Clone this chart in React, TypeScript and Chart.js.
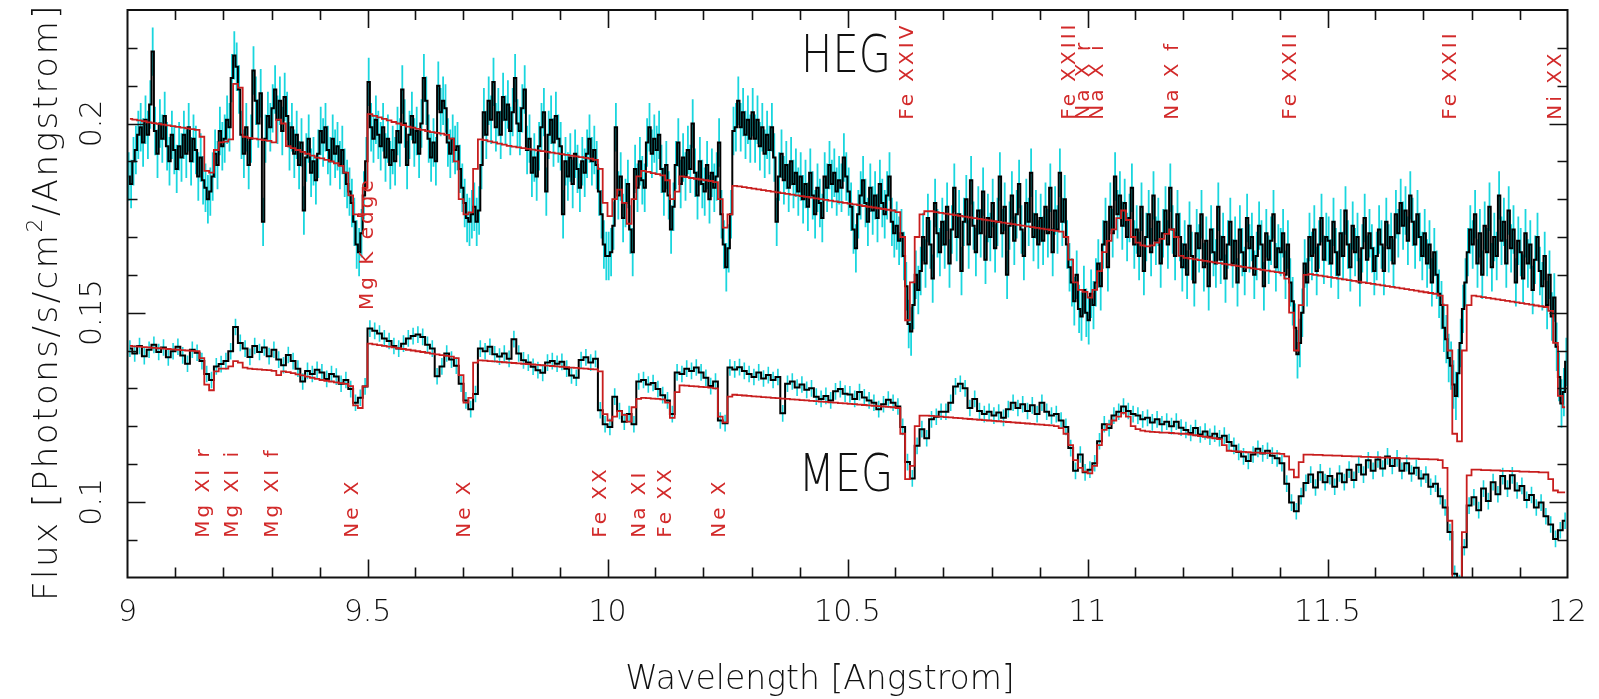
import React, { useEffect, useRef } from "react";
import { Chart, registerables } from "chart.js";

Chart.register(...registerables);

// ---- grid of the two spectra ----
const WAVE_START = 9.0;
const HEG_BIN = 0.005;
const MEG_BIN = 0.01;
const MODEL_BIN = 0.01;

// typical 1-sigma flux errors of a bin
const hegSigma = 0.0064;
const megSigma = 0.0022;

// HEG measured flux (photons/s/cm^2/A), 0.005 A bins from 9.0 A
const hegFlux = [
  0.186,0.184,0.190,0.193,0.197,0.199,0.195,0.201,0.197,0.205,0.219,0.198,0.192,0.200,0.196,0.202,0.194,0.190,0.197,0.193,
  0.188,0.194,0.191,0.197,0.192,0.199,0.190,0.196,0.193,0.186,0.191,0.185,0.183,0.180,0.182,0.186,0.192,0.189,0.198,0.194,
  0.196,0.201,0.199,0.212,0.218,0.215,0.209,0.197,0.192,0.199,0.189,0.196,0.214,0.206,0.200,0.208,0.174,0.196,0.202,0.199,
  0.204,0.209,0.201,0.206,0.198,0.207,0.202,0.194,0.199,0.192,0.197,0.189,0.195,0.177,0.191,0.196,0.187,0.190,0.185,0.192,
  0.198,0.195,0.199,0.193,0.190,0.196,0.192,0.194,0.189,0.193,0.187,0.184,0.182,0.179,0.174,0.168,0.166,0.171,0.181,0.190,
  0.211,0.199,0.196,0.201,0.197,0.194,0.199,0.191,0.196,0.189,0.193,0.190,0.198,0.195,0.209,0.200,0.189,0.197,0.202,0.195,
  0.198,0.192,0.200,0.212,0.206,0.196,0.191,0.195,0.190,0.210,0.203,0.206,0.204,0.195,0.192,0.196,0.193,0.194,0.188,0.183,
  0.179,0.175,0.174,0.176,0.178,0.174,0.177,0.189,0.203,0.197,0.206,0.201,0.211,0.199,0.203,0.197,0.207,0.201,0.205,0.198,
  0.203,0.212,0.200,0.198,0.204,0.209,0.193,0.196,0.187,0.191,0.186,0.194,0.199,0.203,0.182,0.197,0.201,0.195,0.202,0.196,
  0.194,0.176,0.190,0.186,0.191,0.184,0.192,0.188,0.183,0.190,0.187,0.192,0.196,0.190,0.193,0.189,0.182,0.176,0.168,0.165,
  0.165,0.166,0.173,0.199,0.181,0.186,0.175,0.179,0.184,0.172,0.166,0.188,0.183,0.190,0.185,0.183,0.195,0.199,0.192,0.196,
  0.193,0.197,0.188,0.182,0.189,0.181,0.172,0.178,0.189,0.195,0.184,0.191,0.186,0.193,0.188,0.200,0.187,0.181,0.190,0.184,
  0.182,0.189,0.180,0.187,0.183,0.186,0.195,0.176,0.168,0.162,0.167,0.176,0.198,0.199,0.206,0.199,0.203,0.197,0.201,0.196,
  0.203,0.196,0.201,0.194,0.199,0.192,0.197,0.193,0.199,0.191,0.174,0.186,0.192,0.185,0.189,0.183,0.190,0.184,0.187,0.182,
  0.186,0.180,0.184,0.178,0.187,0.181,0.176,0.183,0.179,0.175,0.186,0.183,0.189,0.184,0.187,0.182,0.185,0.183,0.191,0.186,
  0.182,0.178,0.172,0.167,0.176,0.181,0.185,0.179,0.174,0.183,0.177,0.181,0.175,0.184,0.179,0.176,0.181,0.186,0.174,0.171,
  0.173,0.169,0.171,0.165,0.157,0.147,0.145,0.152,0.160,0.156,0.161,0.170,0.163,0.175,0.168,0.159,0.179,0.171,0.166,0.174,
  0.168,0.178,0.163,0.172,0.183,0.170,0.176,0.161,0.174,0.180,0.168,0.185,0.173,0.166,0.177,0.171,0.182,0.164,0.175,0.170,
  0.179,0.167,0.174,0.186,0.171,0.178,0.160,0.173,0.181,0.169,0.176,0.184,0.172,0.165,0.179,0.174,0.187,0.170,0.176,0.168,
  0.175,0.169,0.178,0.171,0.183,0.166,0.177,0.172,0.187,0.174,0.180,0.168,0.162,0.158,0.153,0.160,0.151,0.149,0.156,0.150,
  0.148,0.155,0.152,0.158,0.163,0.157,0.168,0.174,0.162,0.178,0.171,0.186,0.176,0.181,0.173,0.179,0.170,0.175,0.183,0.168,
  0.172,0.165,0.178,0.161,0.170,0.176,0.166,0.181,0.169,0.174,0.163,0.171,0.177,0.168,0.183,0.172,0.165,0.176,0.170,0.162,
  0.168,0.160,0.173,0.165,0.158,0.171,0.167,0.176,0.162,0.169,0.157,0.172,0.166,0.163,0.178,0.164,0.170,0.159,0.168,0.174,
  0.163,0.169,0.158,0.172,0.166,0.161,0.175,0.167,0.170,0.160,0.165,0.173,0.168,0.157,0.171,0.164,0.169,0.176,0.162,0.167,
  0.166,0.171,0.160,0.168,0.158,0.153,0.146,0.139,0.142,0.150,0.163,0.158,0.170,0.165,0.172,0.161,0.168,0.175,0.164,0.170,
  0.169,0.163,0.174,0.166,0.160,0.171,0.165,0.177,0.168,0.162,0.173,0.166,0.170,0.158,0.167,0.175,0.164,0.171,0.167,0.161,
  0.165,0.172,0.168,0.161,0.174,0.167,0.170,0.163,0.176,0.171,0.179,0.173,0.177,0.169,0.181,0.174,0.168,0.176,0.170,0.165,
  0.171,0.163,0.168,0.158,0.166,0.160,0.155,0.152,0.146,0.143,0.138,0.136,0.131,0.128,0.134,0.142,0.151,0.158,0.166,0.172,
  0.168,0.176,0.163,0.171,0.160,0.173,0.166,0.178,0.162,0.170,0.165,0.181,0.169,0.174,0.163,0.177,0.167,0.172,0.158,0.169,
  0.166,0.159,0.171,0.163,0.168,0.156,0.164,0.170,0.161,0.157,0.165,0.152,0.160,0.149,0.154,0.141,0.133,0.126,0.129,0.137,
];

// HEG fitted model, 0.01 A bins
const hegModel = [
  0.2012,0.2010,0.2008,0.2006,0.2003,0.2001,0.1999,0.1997,0.1995,0.1993,
  0.1991,0.1989,0.1987,0.1985,0.1983,0.1965,0.1875,0.1870,0.1930,0.1950,
  0.1952,0.1958,0.2105,0.2095,0.1965,0.1962,0.1960,0.1958,0.1956,0.1954,
  0.1950,0.2010,0.2000,0.1940,0.1935,0.1930,0.1925,0.1920,0.1915,0.1910,
  0.1908,0.1904,0.1900,0.1895,0.1888,0.1870,0.1810,0.1760,0.1755,0.1830,
  0.2025,0.2020,0.2016,0.2012,0.2008,0.2004,0.2000,0.1996,0.1992,0.1989,
  0.1986,0.1983,0.1980,0.1977,0.1975,0.1973,0.1970,0.1960,0.1900,0.1800,
  0.1760,0.1765,0.1880,0.1958,0.1956,0.1953,0.1950,0.1947,0.1944,0.1941,
  0.1939,0.1937,0.1935,0.1933,0.1931,0.1929,0.1927,0.1925,0.1923,0.1921,
  0.1919,0.1917,0.1915,0.1913,0.1911,0.1909,0.1907,0.1904,0.1880,0.1790,
  0.1755,0.1800,0.1825,0.1790,0.1735,0.1800,0.1860,0.1875,0.1872,0.1869,
  0.1866,0.1863,0.1850,0.1800,0.1820,0.1860,0.1858,0.1856,0.1854,0.1852,
  0.1850,0.1848,0.1845,0.1800,0.1725,0.1760,0.1835,0.1834,0.1832,0.1830,
  0.1828,0.1826,0.1824,0.1822,0.1820,0.1818,0.1816,0.1814,0.1812,0.1810,
  0.1808,0.1806,0.1804,0.1802,0.1800,0.1798,0.1796,0.1794,0.1792,0.1790,
  0.1788,0.1786,0.1784,0.1782,0.1780,0.1778,0.1776,0.1774,0.1772,0.1770,
  0.1766,0.1700,0.1480,0.1580,0.1700,0.1760,0.1768,0.1768,0.1766,0.1764,
  0.1762,0.1760,0.1758,0.1756,0.1754,0.1752,0.1750,0.1748,0.1746,0.1744,
  0.1742,0.1740,0.1738,0.1736,0.1734,0.1732,0.1730,0.1728,0.1726,0.1724,
  0.1722,0.1720,0.1718,0.1716,0.1714,0.1700,0.1640,0.1580,0.1560,0.1555,
  0.1540,0.1560,0.1610,0.1660,0.1690,0.1720,0.1750,0.1770,0.1745,0.1700,
  0.1685,0.1678,0.1675,0.1678,0.1685,0.1695,0.1708,0.1720,0.1700,0.1650,
  0.1645,0.1643,0.1641,0.1639,0.1637,0.1635,0.1633,0.1631,0.1629,0.1627,
  0.1625,0.1623,0.1621,0.1619,0.1617,0.1615,0.1613,0.1611,0.1609,0.1607,
  0.1605,0.1590,0.1500,0.1400,0.1520,0.1600,0.1602,0.1600,0.1598,0.1596,
  0.1594,0.1592,0.1590,0.1588,0.1586,0.1584,0.1582,0.1580,0.1578,0.1576,
  0.1574,0.1572,0.1570,0.1568,0.1566,0.1564,0.1562,0.1560,0.1558,0.1556,
  0.1554,0.1552,0.1550,0.1545,0.1520,0.1400,0.1180,0.1160,0.1400,0.1520,
  0.1545,0.1543,0.1541,0.1539,0.1537,0.1535,0.1533,0.1531,0.1529,0.1527,
  0.1525,0.1523,0.1521,0.1519,0.1517,0.1515,0.1505,0.1420,0.1280,0.1250,
];

// MEG measured flux, 0.01 A bins from 9.0 A
const megFlux = [
  0.1405,0.1392,0.1412,0.1385,0.1402,0.1415,0.1396,0.1408,0.1382,0.1398,
  0.1410,0.1387,0.1365,0.1402,0.1394,0.1372,0.1338,0.1322,0.1358,0.1364,
  0.1372,0.1398,0.1462,0.1420,0.1405,0.1383,0.1412,0.1396,0.1408,0.1385,
  0.1402,0.1376,0.1361,0.1388,0.1372,0.1352,0.1318,0.1346,0.1338,0.1349,
  0.1342,0.1325,0.1338,0.1331,0.1312,0.1322,0.1298,0.1262,0.1275,0.1305,
  0.1458,0.1452,0.1445,0.1432,0.1425,0.1412,0.1405,0.1418,0.1432,0.1438,
  0.1442,0.1436,0.1415,0.1405,0.1332,0.1358,0.1392,0.1376,0.1360,0.1312,
  0.1268,0.1245,0.1285,0.1405,0.1398,0.1410,0.1390,0.1384,0.1392,0.1378,
  0.1430,0.1392,0.1374,0.1368,0.1357,0.1348,0.1341,0.1368,0.1372,0.1365,
  0.1370,0.1352,0.1334,0.1328,0.1375,0.1382,0.1368,0.1378,0.1242,0.1205,
  0.1198,0.1278,0.1240,0.1212,0.1232,0.1205,0.1318,0.1322,0.1310,0.1314,
  0.1298,0.1282,0.1268,0.1232,0.1342,0.1338,0.1352,0.1346,0.1355,0.1342,
  0.1328,0.1306,0.1318,0.1215,0.1208,0.1355,0.1350,0.1356,0.1346,0.1338,
  0.1330,0.1342,0.1326,0.1335,0.1322,0.1330,0.1234,0.1312,0.1318,0.1302,
  0.1310,0.1296,0.1300,0.1278,0.1272,0.1280,0.1268,0.1292,0.1298,0.1286,
  0.1284,0.1272,0.1290,0.1276,0.1268,0.1262,0.1245,0.1258,0.1270,0.1262,
  0.1252,0.1198,0.1105,0.1062,0.1148,0.1192,0.1168,0.1218,0.1225,0.1238,
  0.1238,0.1262,0.1305,0.1312,0.1300,0.1248,0.1272,0.1240,0.1232,0.1238,
  0.1228,0.1236,0.1222,0.1245,0.1262,0.1248,0.1258,0.1240,0.1255,0.1232,
  0.1262,0.1238,0.1228,0.1232,0.1215,0.1198,0.1142,0.1082,0.1125,0.1078,
  0.1085,0.1102,0.1160,0.1205,0.1195,0.1228,0.1238,0.1252,0.1240,0.1232,
  0.1228,0.1218,0.1222,0.1210,0.1218,0.1205,0.1212,0.1200,0.1212,0.1196,
  0.1190,0.1182,0.1195,0.1178,0.1186,0.1172,0.1180,0.1168,0.1175,0.1158,
  0.1148,0.1132,0.1120,0.1108,0.1125,0.1140,0.1128,0.1135,0.1122,0.1115,
  0.1102,0.1048,0.0998,0.0975,0.1015,0.1050,0.1072,0.1038,0.1078,0.1052,
  0.1068,0.1040,0.1075,0.1052,0.1085,0.1058,0.1098,0.1072,0.1110,0.1082,
  0.1112,0.1088,0.1120,0.1095,0.1115,0.1082,0.1102,0.1075,0.1090,0.1062,
  0.1072,0.1040,0.1048,0.1015,0.0985,0.0920,0.0810,0.0785,0.0880,0.0990,
  0.1012,0.0978,0.1035,0.1002,0.1052,0.1020,0.1068,0.1035,0.1070,0.1030,
  0.1042,0.1005,0.1018,0.0985,0.0998,0.0962,0.0940,0.0902,0.0925,0.0950,
];

// MEG fitted model, 0.01 A bins
const megModel = [
  0.1412,0.1411,0.1410,0.1409,0.1408,0.1407,0.1406,0.1405,0.1404,0.1403,
  0.1402,0.1401,0.1400,0.1399,0.1398,0.1380,0.1310,0.1295,0.1345,0.1352,
  0.1352,0.1358,0.1372,0.1368,0.1355,0.1352,0.1351,0.1350,0.1349,0.1348,
  0.1346,0.1335,0.1345,0.1343,0.1340,0.1337,0.1334,0.1331,0.1328,0.1325,
  0.1322,0.1320,0.1318,0.1316,0.1314,0.1312,0.1306,0.1255,0.1248,0.1305,
  0.1418,0.1416,0.1414,0.1412,0.1410,0.1408,0.1406,0.1404,0.1402,0.1400,
  0.1398,0.1396,0.1394,0.1392,0.1390,0.1388,0.1386,0.1384,0.1380,0.1335,
  0.1262,0.1275,0.1368,0.1374,0.1373,0.1372,0.1371,0.1370,0.1369,0.1368,
  0.1367,0.1366,0.1365,0.1364,0.1363,0.1362,0.1361,0.1360,0.1359,0.1358,
  0.1357,0.1356,0.1355,0.1354,0.1353,0.1352,0.1351,0.1350,0.1345,0.1232,
  0.1215,0.1225,0.1240,0.1230,0.1212,0.1250,0.1272,0.1275,0.1274,0.1273,
  0.1272,0.1271,0.1262,0.1222,0.1290,0.1308,0.1307,0.1306,0.1305,0.1304,
  0.1303,0.1302,0.1300,0.1225,0.1210,0.1278,0.1283,0.1282,0.1281,0.1280,
  0.1279,0.1278,0.1277,0.1276,0.1275,0.1274,0.1273,0.1272,0.1271,0.1270,
  0.1269,0.1268,0.1267,0.1266,0.1265,0.1264,0.1263,0.1262,0.1261,0.1260,
  0.1259,0.1258,0.1257,0.1256,0.1255,0.1254,0.1253,0.1252,0.1251,0.1250,
  0.1248,0.1180,0.1060,0.1095,0.1200,0.1228,0.1228,0.1227,0.1226,0.1225,
  0.1224,0.1223,0.1222,0.1221,0.1220,0.1219,0.1218,0.1217,0.1216,0.1215,
  0.1214,0.1213,0.1212,0.1211,0.1210,0.1209,0.1208,0.1207,0.1206,0.1205,
  0.1204,0.1203,0.1202,0.1200,0.1195,0.1180,0.1150,0.1110,0.1090,0.1080,
  0.1075,0.1095,0.1150,0.1190,0.1205,0.1215,0.1225,0.1235,0.1225,0.1200,
  0.1192,0.1188,0.1186,0.1185,0.1184,0.1183,0.1183,0.1182,0.1181,0.1180,
  0.1180,0.1178,0.1176,0.1174,0.1172,0.1170,0.1168,0.1166,0.1150,0.1135,
  0.1134,0.1133,0.1132,0.1131,0.1130,0.1130,0.1129,0.1129,0.1128,0.1128,
  0.1127,0.1120,0.1085,0.1065,0.1105,0.1125,0.1125,0.1124,0.1124,0.1123,
  0.1123,0.1122,0.1122,0.1121,0.1121,0.1120,0.1120,0.1119,0.1119,0.1118,
  0.1118,0.1117,0.1117,0.1116,0.1116,0.1115,0.1115,0.1114,0.1114,0.1113,
  0.1113,0.1112,0.1112,0.1110,0.1090,0.0950,0.0780,0.0770,0.0920,0.1070,
  0.1085,0.1085,0.1084,0.1084,0.1083,0.1083,0.1082,0.1082,0.1081,0.1081,
  0.1080,0.1080,0.1079,0.1079,0.1078,0.1078,0.1060,0.1030,0.1025,0.1025,
];

// line identifications: label, wavelength of the label baseline, flux where the text starts
const upperLineLabels = ["Fe XXIV", "Fe XXIII", "Na X r", "Na X i", "Na X f", "Fe XXII", "Fe XXII", "Ni XX"];
const upperLineWaves = [10.636, 10.974, 11.004, 11.032, 11.188, 11.434, 11.768, 11.987];
const upperLabelFlux = 0.201;

const lowerLineLabels = ["Mg XI r", "Mg XI i", "Mg XI f", "Ne X", "Ne X", "Fe XX", "Na XI", "Fe XX", "Ne X"];
const lowerLineWaves = [9.169, 9.231, 9.314, 9.481, 9.714, 9.997, 10.079, 10.132, 10.245];
const lowerLabelFlux = 0.0905;

const edgeLabel = "Mg K edge";
const edgeWave = 9.512;
const edgeLabelFlux = 0.1507;

// axes
const X_MIN = 9;
const X_MAX = 12;
const Y_MIN = 0.08;
const Y_MAX = 0.23;
const xTickValues = [9, 9.5, 10, 10.5, 11, 11.5, 12];
const xTickLabels = ["9", "9.5", "10", "10.5", "11", "11.5", "12"];
const yTickValues = [0.1, 0.15, 0.2];
const yTickLabels = ["0.1", "0.15", "0.2"];
const X_MINOR_STEP = 0.1;
const Y_MINOR_STEP = 0.01;

const RED = "#c81e1e";
const LABEL_RED = "#d22a2a";
const CYAN = "#19d6de";
const FONT = "'DejaVu Sans', 'Liberation Sans', sans-serif";

function stepPoints(values: number[], bin: number) {
  return values.map((v, i) => ({ x: WAVE_START + (i + 0.5) * bin, y: v }));
}

function errorPoints(values: number[], bin: number, sigma: number) {
  const pts: { x: number; y: number | null }[] = [];
  values.forEach((v, i) => {
    const xc = WAVE_START + (i + 0.5) * bin;
    pts.push({ x: xc, y: v - sigma }, { x: xc, y: v + sigma }, { x: xc, y: null });
  });
  return pts;
}

function verticalText(ctx: CanvasRenderingContext2D, text: string, x: number, y: number, align: CanvasTextAlign) {
  ctx.save();
  ctx.translate(x, y);
  ctx.rotate(-Math.PI / 2);
  ctx.textAlign = align;
  ctx.fillText(text, 0, 0);
  ctx.restore();
}

const framePlugin = {
  id: "spectrumFrame",
  beforeDraw(chart: any) {
    const { ctx, width, height } = chart;
    ctx.save();
    ctx.fillStyle = "#ffffff";
    ctx.fillRect(0, 0, width, height);
    ctx.restore();
  },
  afterDatasetsDraw(chart: any) {
    const { ctx, chartArea: a, scales } = chart;
    const xs = scales.x;
    const ys = scales.y;
    ctx.save();

    // frame
    ctx.strokeStyle = "#111";
    ctx.lineWidth = 2;
    ctx.strokeRect(a.left, a.top, a.right - a.left, a.bottom - a.top);

    // inward ticks on all four sides
    ctx.lineWidth = 1.6;
    ctx.beginPath();
    const nx = Math.round((X_MAX - X_MIN) / X_MINOR_STEP);
    for (let k = 1; k < nx; k++) {
      const v = X_MIN + k * X_MINOR_STEP;
      const px = Math.round(xs.getPixelForValue(v)) + 0.5;
      const len = k % 5 === 0 ? 18 : 10;
      ctx.moveTo(px, a.bottom);
      ctx.lineTo(px, a.bottom - len);
      ctx.moveTo(px, a.top);
      ctx.lineTo(px, a.top + len);
    }
    const ny = Math.round((Y_MAX - Y_MIN) / Y_MINOR_STEP);
    for (let k = 1; k < ny; k++) {
      const v = Y_MIN + k * Y_MINOR_STEP;
      const py = Math.round(ys.getPixelForValue(v)) + 0.5;
      const major = yTickValues.some((t) => Math.abs(t - v) < 1e-6);
      const len = major ? 18 : 10;
      ctx.moveTo(a.left, py);
      ctx.lineTo(a.left + len, py);
      ctx.moveTo(a.right, py);
      ctx.lineTo(a.right - len, py);
    }
    ctx.stroke();

    // tick labels
    ctx.fillStyle = "#111";
    ctx.font = `300 30px ${FONT}`;
    ctx.textBaseline = "alphabetic";
    ctx.textAlign = "center";
    xTickValues.forEach((v, i) => {
      ctx.fillText(xTickLabels[i], xs.getPixelForValue(v), a.bottom + 43);
    });
    yTickValues.forEach((v, i) => {
      verticalText(ctx, yTickLabels[i], a.left - 27, ys.getPixelForValue(v), "center");
    });

    // axis titles
    ctx.font = `300 33px ${FONT}`;
    ctx.textAlign = "center";
    ctx.fillText("Wavelength [Angstrom]", 820, 689);

    ctx.save();
    ctx.translate(57, 302);
    ctx.rotate(-Math.PI / 2);
    (ctx as any).letterSpacing = "2.5px";
    ctx.textAlign = "left";
    const partA = "Flux [Photons/s/cm";
    const partB = "2";
    const partC = "/Angstrom]";
    ctx.font = `300 34px ${FONT}`;
    const wA = ctx.measureText(partA).width;
    const wC = ctx.measureText(partC).width;
    ctx.font = `300 22px ${FONT}`;
    const wB = ctx.measureText(partB).width;
    const total = wA + wB + wC;
    let cx = -total / 2;
    ctx.font = `300 34px ${FONT}`;
    ctx.fillText(partA, cx, 0);
    cx += wA;
    ctx.font = `300 22px ${FONT}`;
    ctx.fillText(partB, cx, -15);
    cx += wB;
    ctx.font = `300 34px ${FONT}`;
    ctx.fillText(partC, cx, 0);
    ctx.restore();

    // grating names
    ctx.font = `300 52px ${FONT}`;
    ctx.textAlign = "center";
    [["HEG", 72], ["MEG", 491]].forEach(([name, base]) => {
      ctx.save();
      ctx.translate(846, base as number);
      ctx.scale(0.8, 1);
      ctx.fillText(name as string, 0, 0);
      ctx.restore();
    });

    // line identifications
    ctx.fillStyle = LABEL_RED;
    ctx.font = `400 20px ${FONT}`;
    (ctx as any).letterSpacing = "3px";
    ctx.textBaseline = "alphabetic";
    const yUp = ys.getPixelForValue(upperLabelFlux);
    upperLineLabels.forEach((t, i) => verticalText(ctx, t, xs.getPixelForValue(upperLineWaves[i]), yUp, "left"));
    const yLow = ys.getPixelForValue(lowerLabelFlux);
    lowerLineLabels.forEach((t, i) => verticalText(ctx, t, xs.getPixelForValue(lowerLineWaves[i]), yLow, "left"));
    verticalText(ctx, edgeLabel, xs.getPixelForValue(edgeWave), ys.getPixelForValue(edgeLabelFlux), "left");

    ctx.restore();
  },
};

export default function App() {
  const canvasRef = useRef<HTMLCanvasElement | null>(null);

  useEffect(() => {
    document.body.style.margin = "0";
    const canvas = canvasRef.current;
    if (!canvas) return;

    const lineBase = { pointRadius: 0, pointHoverRadius: 0, fill: false, tension: 0 };

    const chart = new Chart(canvas, {
      type: "line",
      data: {
        datasets: [
          { ...lineBase, label: "HEG model", data: stepPoints(hegModel, MODEL_BIN), borderColor: RED, borderWidth: 1.8, stepped: "middle", order: 1 },
          { ...lineBase, label: "MEG model", data: stepPoints(megModel, MODEL_BIN), borderColor: RED, borderWidth: 1.8, stepped: "middle", order: 1 },
          { ...lineBase, label: "HEG", data: stepPoints(hegFlux, HEG_BIN), borderColor: "#000", borderWidth: 2, stepped: "middle", order: 2 },
          { ...lineBase, label: "MEG", data: stepPoints(megFlux, MEG_BIN), borderColor: "#000", borderWidth: 2, stepped: "middle", order: 2 },
          { ...lineBase, label: "HEG errors", data: errorPoints(hegFlux, HEG_BIN, hegSigma), borderColor: CYAN, borderWidth: 1.8, spanGaps: false, order: 3 },
          { ...lineBase, label: "MEG errors", data: errorPoints(megFlux, MEG_BIN, megSigma), borderColor: CYAN, borderWidth: 1.6, spanGaps: false, order: 3 },
        ] as any,
      },
      options: {
        responsive: false,
        animation: false,
        devicePixelRatio: 1,
        events: [],
        layout: { padding: { left: 127.5, right: 31.5, top: 10, bottom: 121.5 } },
        scales: {
          x: { type: "linear", min: X_MIN, max: X_MAX, display: false },
          y: { type: "linear", min: Y_MIN, max: Y_MAX, display: false },
        },
        plugins: { legend: { display: false }, tooltip: { enabled: false }, title: { display: false } },
      },
      plugins: [framePlugin],
    });

    return () => chart.destroy();
  }, []);

  return (
    <div style={{ width: 1599, height: 699 }}>
      <canvas ref={canvasRef} width={1599} height={699} style={{ display: "block" }} />
    </div>
  );
}
